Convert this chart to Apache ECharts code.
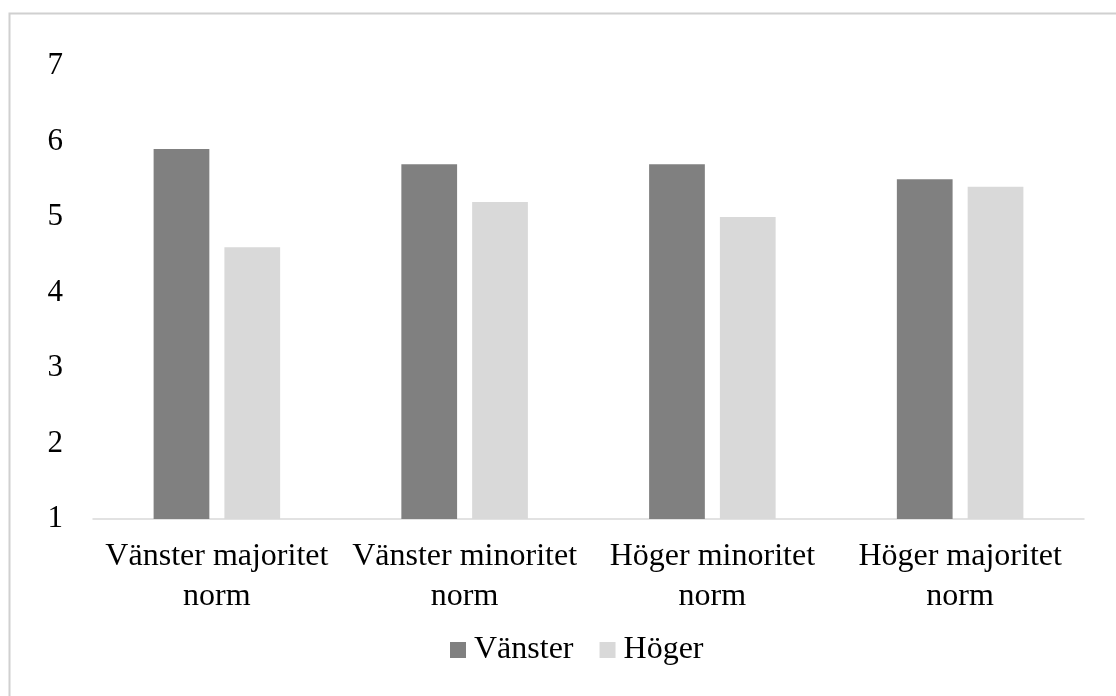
<!DOCTYPE html>
<html><head><meta charset="utf-8">
<script src="https://cdn.jsdelivr.net/npm/echarts@6/dist/echarts.min.js"></script>
<style>html,body{margin:0;padding:0;background:#fff}#c{width:1116px;height:696px}</style>
</head><body><div id="c"></div>
<script>
const categories = ['Vänster majoritet\nnorm', 'Vänster minoritet\nnorm', 'Höger minoritet\nnorm', 'Höger majoritet\nnorm'];
const seriesNames = ['Vänster', 'Höger'];
const vansterValues = [5.9, 5.7, 5.7, 5.5];
const hogerValues = [4.6, 5.2, 5.0, 5.4];
const yTicks = [1, 2, 3, 4, 5, 6, 7];

const font = '"Liberation Serif", "Times New Roman", serif';
const chart = echarts.init(document.getElementById('c'), null, {renderer: 'canvas'});
chart.setOption({
  animation: false,
  backgroundColor: '#fff',
  graphic: [{
    type: 'rect', left: 7, top: 11, z: -1,
    shape: {width: 1200, height: 800},
    style: {fill: 'none', stroke: '#d0d0d0', lineWidth: 2}
  }],
  grid: {left: 93, right: 32, top: 66, bottom: 177, containLabel: false},
  legend: {
    data: seriesNames, bottom: 25, left: 445,
    itemWidth: 16, itemHeight: 16, itemGap: 26, icon: 'rect',
    textStyle: {fontFamily: font, fontSize: 32, color: '#000', padding: [0,0,0,3]}
  },
  xAxis: {
    type: 'category', data: categories,
    axisLine: {lineStyle: {color: '#d9d9d9', width: 1.5}},
    axisTick: {show: false},
    axisLabel: {fontFamily: font, fontSize: 32, color: '#000', lineHeight: 40, margin: 18, interval: 0}
  },
  yAxis: {
    type: 'value', min: yTicks[0], max: yTicks[yTicks.length-1], interval: 1,
    axisLine: {show: false}, axisTick: {show: false}, splitLine: {show: false},
    axisLabel: {fontFamily: font, fontSize: 31, color: '#000', margin: 30}
  },
  series: [
    {name: seriesNames[0], type: 'bar', data: vansterValues, barWidth: '22.5%', barGap: '27%',
     itemStyle: {color: '#808080'}},
    {name: seriesNames[1], type: 'bar', data: hogerValues, barWidth: '22.5%', barGap: '27%',
     itemStyle: {color: '#d9d9d9'}}
  ]
});
</script></body></html>
